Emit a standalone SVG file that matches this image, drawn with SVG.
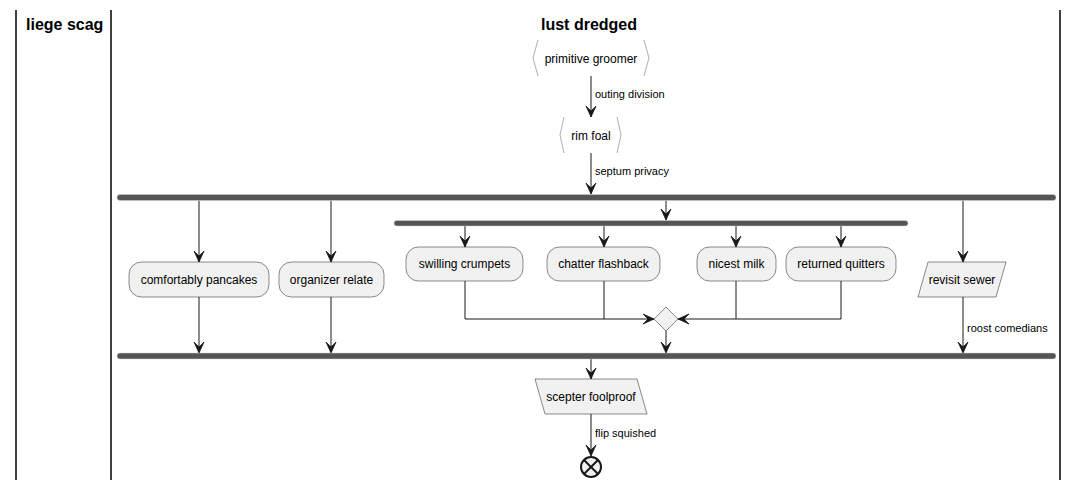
<svg xmlns="http://www.w3.org/2000/svg" width="1079" height="488" viewBox="0 0 1079 488">
<defs>
<marker id="ah" markerWidth="14" markerHeight="12" viewBox="-13 -6 14 12" refX="0" refY="0" orient="auto" markerUnits="userSpaceOnUse" overflow="visible">
<path d="M-11,-5 L0,0 L-11,5 L-6,0 Z" fill="#181818" stroke="#181818" stroke-width="0.8" stroke-linejoin="miter"/>
</marker>
</defs>
<style>
text{font-family:"Liberation Sans",Arial,sans-serif;fill:#000}
.title{font-size:16px;font-weight:bold}
.t{font-size:12px;text-anchor:middle}
.lbl{font-size:11px}
.lane{stroke:#000;stroke-width:1.5}
.box{fill:#F1F1F1;stroke:#181818;stroke-width:0.5}
.bar{fill:#555555;stroke:#d0d0d0;stroke-width:0.5}
.br{fill:none;stroke:#999;stroke-width:0.8}
.c{fill:none;stroke:#181818;stroke-width:1}
.a{fill:none;stroke:#181818;stroke-width:1;marker-end:url(#ah)}
</style>
<g id="lanes">
<line class="lane" x1="16" y1="10" x2="16" y2="480"/>
<line class="lane" x1="111" y1="10" x2="111" y2="480"/>
<line class="lane" x1="1060" y1="10" x2="1060" y2="480"/>
<text class="title" x="26" y="30">liege scag</text>
<text class="title" x="589" y="30" text-anchor="middle">lust dredged</text>
</g>
<g id="connectors">
<path class="a" d="M591,76 V117"/>
<path class="a" d="M591,153 V194"/>
<path class="a" d="M199,200.5 V262"/>
<path class="a" d="M331,200.5 V262"/>
<path class="a" d="M666,200.5 V220"/>
<path class="a" d="M465,226 V247"/>
<path class="a" d="M604,226 V247"/>
<path class="a" d="M736,226 V247"/>
<path class="a" d="M841,226 V247"/>
<path class="a" d="M963,200.5 V262"/>
<path class="a" d="M199,297 V353"/>
<path class="a" d="M331,297 V353"/>
<path class="a" d="M465,281 V319 H654"/>
<path class="c" d="M604,281 V319"/>
<path class="a" d="M841,281 V319 H678"/>
<path class="c" d="M736,281 V319"/>
<path class="a" d="M666,331 V353"/>
<path class="a" d="M963,297 V353"/>
<path class="a" d="M591,359 V379"/>
<path class="a" d="M591,414 V456"/>
<text class="lbl" x="595" y="98">outing division</text>
<text class="lbl" x="595" y="175">septum privacy</text>
<text class="lbl" x="967" y="332">roost comedians</text>
<text class="lbl" x="595" y="437">flip squished</text>
</g>
<g id="primitive-groomer">
<polyline class="br" points="538,40 533,58 538,76"/>
<polyline class="br" points="644,40 649,58 644,76"/>
<text class="t" x="591" y="63">primitive groomer</text>
</g>
<g id="rim-foal">
<polyline class="br" points="564,117 560,135 564,153"/>
<polyline class="br" points="617,117 621,135 617,153"/>
<text class="t" x="591" y="140">rim foal</text>
</g>
<g id="fork">
<rect class="bar" x="117" y="194.5" width="939" height="6" rx="3"/>
</g>
<g id="fork-inner">
<rect class="bar" x="394" y="220.5" width="514" height="5.5" rx="2.75"/>
</g>
<g id="comfortably-pancakes">
<rect class="box" x="129" y="262" width="140" height="35" rx="12.5"/>
<text class="t" x="199" y="284">comfortably pancakes</text>
</g>
<g id="organizer-relate">
<rect class="box" x="279" y="262" width="105" height="35" rx="12.5"/>
<text class="t" x="331.5" y="284">organizer relate</text>
</g>
<g id="swilling-crumpets">
<rect class="box" x="406" y="247" width="117" height="34" rx="12.5"/>
<text class="t" x="464.5" y="268">swilling crumpets</text>
</g>
<g id="chatter-flashback">
<rect class="box" x="547" y="247" width="113" height="34" rx="12.5"/>
<text class="t" x="603.5" y="268">chatter flashback</text>
</g>
<g id="nicest-milk">
<rect class="box" x="697" y="247" width="79" height="34" rx="12.5"/>
<text class="t" x="736.5" y="268">nicest milk</text>
</g>
<g id="returned-quitters">
<rect class="box" x="786" y="247" width="110" height="34" rx="12.5"/>
<text class="t" x="841" y="268">returned quitters</text>
</g>
<g id="merge">
<polygon class="box" points="666,307 678,319 666,331 654,319"/>
</g>
<g id="revisit-sewer">
<polygon class="box" points="928,262 1006,262 996,297 918,297"/>
<text class="t" x="962" y="284">revisit sewer</text>
</g>
<g id="join">
<rect class="bar" x="117" y="353" width="939" height="6" rx="3"/>
</g>
<g id="scepter-foolproof">
<polygon class="box" points="535,379 637,379 647,414 545,414"/>
<text class="t" x="591" y="401">scepter foolproof</text>
</g>
<g id="end">
<circle cx="591" cy="467" r="10" fill="#F1F1F1" stroke="#181818" stroke-width="2"/>
<line x1="584" y1="460" x2="598" y2="474" stroke="#181818" stroke-width="2"/>
<line x1="598" y1="460" x2="584" y2="474" stroke="#181818" stroke-width="2"/>
</g>
</svg>
